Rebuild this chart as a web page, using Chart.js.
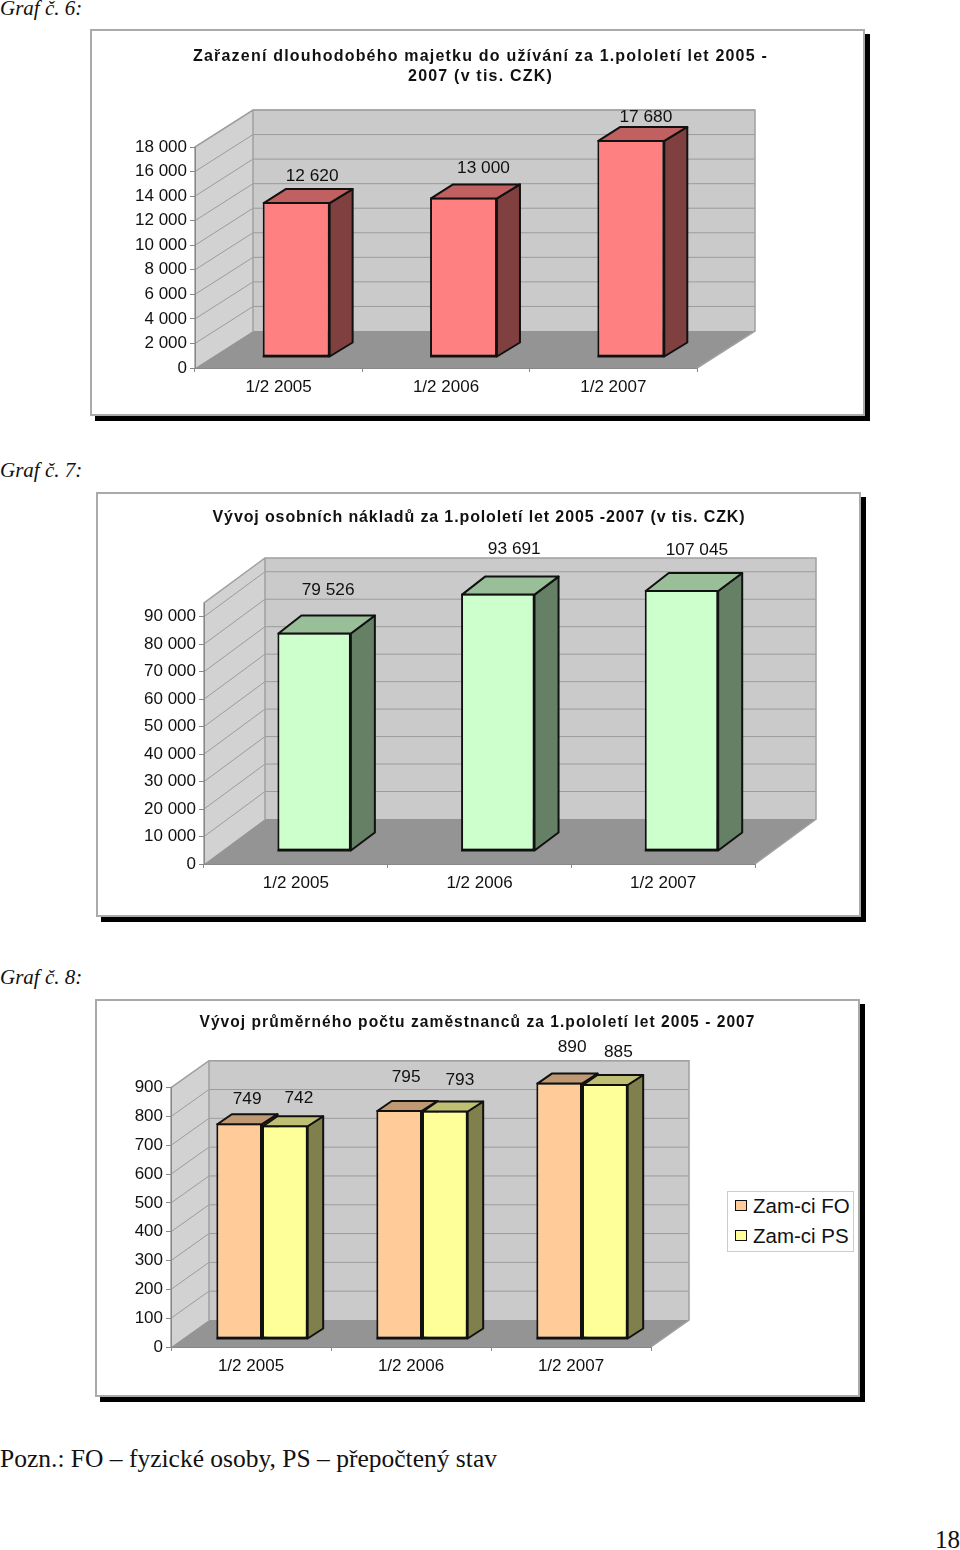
<!DOCTYPE html>
<html lang="cs">
<head>
<meta charset="utf-8">
<title>Graf 6-8</title>
<script src="https://cdn.jsdelivr.net/npm/chart.js@4"></script>
<style>
  html, body { margin: 0; background: #fff; }
  body { position: relative; width: 960px; height: 1550px; overflow: hidden; font-family: "Liberation Serif", serif; color: #111; }
  .cap { position: absolute; left: 0; font-style: italic; font-size: 21px; line-height: 24px; white-space: pre; }
  .note { position: absolute; left: 0; top: 1444px; font-size: 25.5px; line-height: 30px; white-space: pre; }
  .page { position: absolute; right: 0; top: 1525px; font-size: 25px; line-height: 30px; }
  canvas { position: absolute; background: #fff; outline: 2px solid #aaa; outline-offset: -2px; box-shadow: 5px 5px 0 #000; }
  #legend8 { position: absolute; left: 727px; top: 1191px; width: 125px; height: 59px; border: 1px solid #ccc; background: #fff; font: 20.5px "Liberation Sans", Arial, sans-serif; }
  #legend8 div { position: absolute; left: 25px; white-space: pre; line-height: 24px; }
  #legend8 i { position: absolute; left: -18px; top: 6px; width: 10px; height: 9px; border: 1.5px solid #111; }
</style>
</head>
<body>
<div class="cap" style="top:-4px">Graf č. 6:</div>
<canvas id="chart6" width="775" height="387" style="left:90px;top:29px"></canvas>
<div class="cap" style="top:458px">Graf č. 7:</div>
<canvas id="chart7" width="765" height="425" style="left:96px;top:492px"></canvas>
<div class="cap" style="top:965px">Graf č. 8:</div>
<canvas id="chart8" width="765" height="398" style="left:95px;top:999px"></canvas>
<div id="legend8"></div>
<div class="note">Pozn.: FO – fyzické osoby, PS – přepočtený stav</div>
<div class="page">18</div>
<script>
// data
const categories = ['1/2 2005', '1/2 2006', '1/2 2007'];
const assets = [12620, 13000, 17680];
const personnelCosts = [79526, 93691, 107045];
const staffFO = [749, 795, 890];
const staffPS = [742, 793, 885];

const ticks6 = [0, 2000, 4000, 6000, 8000, 10000, 12000, 14000, 16000, 18000];
const ticks7 = [0, 10000, 20000, 30000, 40000, 50000, 60000, 70000, 80000, 90000];
const ticks8 = [0, 100, 200, 300, 400, 500, 600, 700, 800, 900];

const title6 = ['Zařazení dlouhodobého majetku do užívání za 1.pololetí let 2005 -', '2007 (v tis. CZK)'];
const title7 = 'Vývoj osobních nákladů za 1.pololetí let 2005 -2007 (v tis. CZK)';
const title8 = 'Vývoj průměrného počtu zaměstnanců za 1.pololetí let 2005 - 2007';

const FONT = '"Liberation Sans", Arial, sans-serif';
const INK = '#111';
const fmt = v => String(v).replace(/\B(?=(\d{3})+$)/g, ' ');

// walls, floor and the sides of the bars, Excel 3D style
const box3d = {
    id: 'box3d',
    afterLayout(chart) {
        const block = chart.titleBlock;
        const o = chart.options.plugins.box3d;
        if (!block || block._wrapped) return;
        const draw = block.draw;
        block.draw = function () {
            chart.ctx.save();
            chart.ctx.letterSpacing = o.titleSpacing;
            chart.ctx.translate(o.titleShift, 0);
            draw.call(block);
            chart.ctx.restore();
        };
        block._wrapped = true;
    },
    beforeDraw(chart, args, o) {
        const { ctx, chartArea: a } = chart;
        const [dx, dy] = o.depth;
        const poly = (pts, fill) => {
            ctx.beginPath();
            pts.forEach((p, i) => i ? ctx.lineTo(p[0], p[1]) : ctx.moveTo(p[0], p[1]));
            ctx.closePath();
            ctx.fillStyle = fill;
            ctx.fill();
        };
        ctx.save();
        poly([[a.left, a.bottom], [a.left + dx, a.bottom + dy], [a.left + dx, a.top + dy], [a.left, a.top]], '#d2d2d2');
        poly([[a.left + dx, a.top + dy], [a.right + dx, a.top + dy], [a.right + dx, a.bottom + dy], [a.left + dx, a.bottom + dy]], '#cacaca');
        poly([[a.left, a.bottom], [a.left + dx, a.bottom + dy], [a.right + dx, a.bottom + dy], [a.right, a.bottom]], '#949494');
        ctx.strokeStyle = '#9c9c9c';
        ctx.lineWidth = 1;
        chart.scales.y.ticks.forEach(t => {
            if (t.value === 0) return;
            const y = chart.scales.y.getPixelForValue(t.value);
            ctx.beginPath();
            ctx.moveTo(a.left, y);
            ctx.lineTo(a.left + dx, y + dy);
            ctx.lineTo(a.right + dx, y + dy);
            ctx.stroke();
        });
        ctx.strokeStyle = '#a0a0a0';
        ctx.lineWidth = 1.5;
        ctx.beginPath();
        ctx.moveTo(a.left, a.bottom);
        ctx.lineTo(a.left, a.top);
        ctx.lineTo(a.left + dx, a.top + dy);
        ctx.lineTo(a.right + dx, a.top + dy);
        ctx.lineTo(a.right + dx, a.bottom + dy);
        ctx.lineTo(a.right, a.bottom);
        ctx.moveTo(a.left + dx, a.top + dy);
        ctx.lineTo(a.left + dx, a.bottom + dy);
        ctx.stroke();
        ctx.restore();
    },
    // the chart paints the first series last, here the right hand bar has to cover
    // the side of the left one, so the series are painted in list order from this hook
    beforeDatasetsDraw(chart, args, o) {
        const { ctx, chartArea: a } = chart;
        ctx.save();
        ctx.translate(o.shift[0], o.shift[1]);
        chart.data.datasets.forEach((ds, i) => {
            const meta = chart.getDatasetMeta(i);
            ctx.save();
            ctx.beginPath();
            ctx.rect(a.left, a.top, a.width, a.height + 2);
            ctx.clip();
            meta.controller.draw();
            ctx.restore();
            drawFaces(ctx, a, meta, ds, o.side);
        });
        ctx.restore();

        ctx.save();
        ctx.font = '17.3px ' + FONT;
        ctx.fillStyle = INK;
        ctx.textAlign = 'center';
        ctx.textBaseline = 'middle';
        chart.data.datasets.forEach((ds, i) => {
            chart.getDatasetMeta(i).data.forEach((bar, j) => {
                const p = bar.getProps(['x', 'y'], true);
                const top = Math.max(p.y, a.top);
                const [nx, ny] = o.labelOffsets[i][j];
                ctx.fillText(fmt(ds.data[j]), p.x + o.shift[0] + nx, top + o.shift[1] + ny);
            });
        });
        ctx.restore();
        return false;
    }
};

function drawFaces(ctx, a, meta, ds, side) {
    const [dx, dy] = side;
    meta.data.forEach(bar => {
        const p = bar.getProps(['x', 'y', 'base', 'width'], true);
        const l = p.x - p.width / 2, r = p.x + p.width / 2;
        const t = Math.max(p.y, a.top) + 1;
        ctx.save();
        ctx.lineWidth = 2;
        ctx.lineJoin = 'round';
        ctx.strokeStyle = INK;
        ctx.fillStyle = ds.sideColor;
        ctx.beginPath();
        ctx.moveTo(r, t);
        ctx.lineTo(r + dx, t + dy);
        ctx.lineTo(r + dx, p.base + dy);
        ctx.lineTo(r, p.base);
        ctx.closePath();
        ctx.fill();
        ctx.stroke();
        ctx.beginPath();
        ctx.moveTo(l, p.base);
        ctx.lineTo(r, p.base);
        ctx.stroke();
        ctx.fillStyle = ds.topColor;
        ctx.beginPath();
        ctx.moveTo(l + 1, t);
        ctx.lineTo(l + dx, t + dy);
        ctx.lineTo(r + dx, t + dy);
        ctx.lineTo(r, t);
        ctx.closePath();
        ctx.fill();
        ctx.stroke();
        ctx.restore();
    });
}

function makeChart(id, cfg) {
    const tickFont = { family: FONT, size: 17 };
    return new Chart(document.getElementById(id), {
        type: 'bar',
        data: { labels: categories, datasets: cfg.datasets },
        plugins: [box3d],
        options: {
            responsive: false,
            animation: false,
            layout: { autoPadding: false, padding: { left: 0, top: 0, bottom: 0, right: cfg.rightPad } },
            datasets: { bar: { categoryPercentage: cfg.groupWidth, barPercentage: 1, borderWidth: 2, borderColor: INK, borderSkipped: false } },
            scales: {
                x: {
                    grid: { drawOnChartArea: false, tickLength: 4, tickColor: '#888', offset: true },
                    border: { color: '#888' },
                    ticks: { font: tickFont, color: INK, padding: 5, maxRotation: 0, autoSkip: false },
                    afterFit: s => { s.height = cfg.xHeight; }
                },
                y: {
                    min: 0,
                    max: cfg.max,
                    grid: { drawOnChartArea: false, tickLength: 5, tickColor: '#888' },
                    border: { color: '#888' },
                    afterBuildTicks: s => { s.ticks = cfg.ticks.map(value => ({ value })); },
                    ticks: { font: tickFont, color: INK, padding: 3, callback: fmt },
                    afterFit: s => { s.width = cfg.yWidth; }
                }
            },
            plugins: {
                legend: { display: false },
                tooltip: { enabled: false },
                title: {
                    display: true,
                    text: cfg.title,
                    color: INK,
                    font: { family: FONT, size: 16, weight: 'bold', lineHeight: '20px' },
                    padding: cfg.titlePad
                },
                box3d: {
                    depth: cfg.depth, shift: cfg.shift, side: cfg.side,
                    labelOffsets: cfg.labelOffsets,
                    titleSpacing: cfg.titleSpacing, titleShift: cfg.titleShift
                }
            }
        }
    });
}

makeChart('chart6', {
    title: title6, titlePad: { top: 18, bottom: 60 }, titleSpacing: '1.2px', titleShift: 87,
    max: 18000, ticks: ticks6, groupWidth: 0.4,
    yWidth: 105, xHeight: 48, rightPad: 168,
    depth: [58, -37], shift: [17.5, -11], side: [23, -14],
    labelOffsets: [[[16, -26], [20, -29], [15, -23]]],
    datasets: [{ label: 'Zařazení', data: assets, backgroundColor: '#ff8080', sideColor: '#804040', topColor: '#c06060' }]
});

makeChart('chart7', {
    title: title7, titlePad: { top: 16, bottom: 75 }, titleSpacing: '0.88px', titleShift: 53.5,
    max: 95000, ticks: ticks7, groupWidth: 0.4,
    yWidth: 108, xHeight: 53, rightPad: 106,
    depth: [61, -45], shift: [18.3, -13], side: [24, -18],
    labelOffsets: [[[14, -42], [16.5, -44], [15.5, -40]]],
    datasets: [{ label: 'Osobní náklady', data: personnelCosts, backgroundColor: '#ccffcc', sideColor: '#668066', topColor: '#99bf99' }]
});

const chart8 = makeChart('chart8', {
    title: title8, titlePad: { top: 14, bottom: 54.7 }, titleSpacing: '1.08px', titleShift: 104.5,
    max: 900, ticks: ticks8, groupWidth: 0.571,
    yWidth: 76, xHeight: 50, rightPad: 209,
    depth: [38, -27], shift: [11, -8], side: [15.5, -10],
    labelOffsets: [[[8, -24], [7, -33], [13, -35]], [[14, -27], [15, -30], [13.5, -32]]],
    datasets: [
        { label: 'Zam-ci FO', data: staffFO, backgroundColor: '#ffcc99', sideColor: '#806640', topColor: '#bf9973' },
        { label: 'Zam-ci PS', data: staffPS, backgroundColor: '#ffff99', sideColor: '#80804d', topColor: '#bfbf73' }
    ]
});

// legend box sits outside the plot, built from the datasets
const legendBox = document.getElementById('legend8');
chart8.data.datasets.forEach((ds, i) => {
    const row = document.createElement('div');
    row.style.top = (2 + i * 30) + 'px';
    row.textContent = ds.label;
    const swatch = document.createElement('i');
    swatch.style.background = ds.backgroundColor;
    row.appendChild(swatch);
    legendBox.appendChild(row);
});
</script>
</body>
</html>
